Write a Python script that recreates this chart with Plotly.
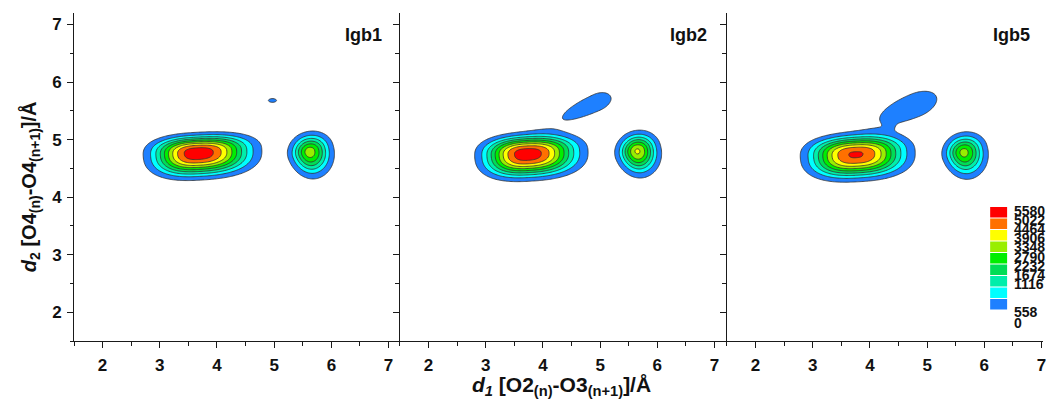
import numpy as np
import plotly.graph_objects as go

# ---- data -----------------------------------------------------------------
panel_names = ["Igb1", "Igb2", "Igb5"]
panel_label_x = [6.92, 6.90, 6.84]
contour_levels = [0, 558, 1116, 1674, 2232, 2790, 3348, 3906, 4464, 5022, 5580]
band_colors = ["#ffffff", "#1e80ff", "#00ffff", "#00eeaa", "#00dd55",
               "#00ee00", "#99ee00", "#ffff00", "#ff7000", "#ff0000"]
axis_ticks = [2, 3, 4, 5, 6, 7]

# density peaks of the (d1, d2) maps, one entry per peak
peak_panel = [0, 0, 0, 1, 1, 1, 2, 2, 2, 2]
peak_x = [3.66, 5.62, 4.97, 3.72, 5.65, 4.95, 3.75, 5.64, 4.80, 4.36]
peak_y = [4.77, 4.79, 5.68, 4.75, 4.80, 5.64, 4.74, 4.78, 5.60, 5.23]
peak_height = [5370, 3650, 610, 5330, 4000, 850, 5070, 3550, 1000, 150]
sig_left = [0.52, 0.20, 0.17, 0.50, 0.20, 0.72, 0.535, 0.20, 0.62, 0.07]
sig_right = [0.615, 0.22, 0.17, 0.585, 0.21, 0.28, 0.575, 0.22, 0.36, 0.07]
sig_down = [0.26, 0.25, 0.08, 0.26, 0.24, 0.15, 0.262, 0.25, 0.19, 0.07]
sig_up = [0.195, 0.18, 0.08, 0.207, 0.18, 0.17, 0.213, 0.18, 0.19, 0.07]
peak_tilt = [3, 20, 0, 3, 20, 24, 3, 20, 22, 0]
peak_power = [2.5, 2.0, 2.0, 2.5, 2.0, 2.0, 2.5, 2.0, 2.0, 2.0]

# ---- density grids ------------------------------------------------------------
grid = np.arange(1.5, 7.2001, 0.02)
GX, GY = np.meshgrid(grid, grid)


def density(panel):
    z = np.zeros_like(GX)
    for i, p in enumerate(peak_panel):
        if p != panel:
            continue
        t = np.radians(peak_tilt[i])
        dx, dy = GX - peak_x[i], GY - peak_y[i]
        u = dx * np.cos(t) + dy * np.sin(t)
        v = -dx * np.sin(t) + dy * np.cos(t)
        su = np.where(u < 0, sig_left[i], sig_right[i])
        sv = np.where(v < 0, sig_down[i], sig_up[i])
        k = peak_power[i]
        q = np.abs(u / su) ** k + np.abs(v / sv) ** k
        z += peak_height[i] * np.exp(-0.5 * q)
    return z


# ---- layout geometry ---------------------------------------------------------
W, H = 1046, 403
ML, MR, MT, MB = 74, 0, 13, 62
plot_w = W - ML - MR
plot_h = H - MT - MB
px_per_unit = 327 / 5.7
panel_px = [(74, 401), (401, 729), (729, 1046)]
domains = [[(a - ML) / plot_w, (b - ML) / plot_w] for a, b in panel_px]
x_ranges = [[1.5, 1.5 + (b - a) / px_per_unit] for a, b in panel_px]

n_fill = len(band_colors)
colorscale = [[k / (n_fill - 1), c] for k, c in enumerate(band_colors)]
step = contour_levels[1] - contour_levels[0]

font_family = "Liberation Sans, Arial, sans-serif"
axis_color = "#1a1a1a"
tick_font = dict(family=font_family, size=17, color="#111", weight="bold")

fig = go.Figure()
for k in range(3):
    sfx = "" if k == 0 else str(k + 1)
    fig.add_trace(go.Contour(
        x=grid, y=grid, z=density(k),
        xaxis="x" + sfx, yaxis="y" + sfx,
        autocontour=False,
        contours=dict(start=contour_levels[1], end=contour_levels[-2],
                      size=step, coloring="fill"),
        colorscale=colorscale,
        line=dict(color="#303030", width=0.8, smoothing=1),
        showscale=False, hoverinfo="skip",
    ))

    xa = dict(domain=domains[k], range=x_ranges[k], anchor="y" + sfx,
              showline=True, linecolor=axis_color, linewidth=1,
              ticks="outside", ticklen=6, tickwidth=1, tickcolor=axis_color,
              tickvals=axis_ticks, ticklabelstandoff=3, ticklabeloverflow="allow",
              tickfont=tick_font,
              minor=dict(dtick=0.5, tick0=1.5, ticks="outside", ticklen=3.5,
                         tickwidth=1, tickcolor=axis_color),
              showgrid=False, zeroline=False, fixedrange=True)
    ya = dict(domain=[0, 1], range=[1.5, 7.2], anchor="x" + sfx,
              showline=True, linecolor=axis_color, linewidth=1,
              mirror=(k < 2),
              ticks="outside", ticklen=6, tickwidth=1, tickcolor=axis_color,
              tickvals=axis_ticks, showticklabels=(k == 0), ticklabelstandoff=2,
              tickfont=tick_font,
              minor=dict(dtick=0.5, tick0=1.5, ticks="outside", ticklen=3.5,
                         tickwidth=1, tickcolor=axis_color),
              showgrid=False, zeroline=False, fixedrange=True)
    fig.layout["xaxis" + sfx] = xa
    fig.layout["yaxis" + sfx] = ya

    fig.add_annotation(x=panel_label_x[k], y=6.82, xref="x" + sfx, yref="y" + sfx,
                       text="<b>%s</b>" % panel_names[k], showarrow=False,
                       xanchor="right", yanchor="middle",
                       font=dict(family=font_family, size=18, color="#111"))

# axis titles
fig.add_annotation(
    x=(563 - ML) / plot_w, y=(MT + plot_h - 386) / plot_h, xref="paper", yref="paper",
    text="<b><i>d</i><sub><i>1</i></sub> [O2<sub>(n)</sub>-O3<sub>(n+1)</sub>]/Å</b>",
    showarrow=False, xanchor="center", yanchor="middle",
    font=dict(family=font_family, size=21, color="#111"))
fig.add_annotation(
    x=(30 - ML) / plot_w, y=(MT + plot_h - 187) / plot_h, xref="paper", yref="paper",
    text="<b><i>d</i><sub>2</sub> [O4<sub>(n)</sub>-O4<sub>(n+1)</sub>]/Å</b>",
    textangle=-90, showarrow=False, xanchor="center", yanchor="middle",
    font=dict(family=font_family, size=20, color="#111"))


# colour-scale key
def py_to_paper(py):
    return (MT + plot_h - py) / plot_h


key_x0, key_x1 = (993 - ML) / plot_w, (1010 - ML) / plot_w
key_top, band_h = 207, 11.5
for j in range(n_fill - 1):
    color = band_colors[n_fill - 1 - j]
    top = key_top + j * band_h
    fig.add_shape(type="rect", xref="paper", yref="paper",
                  x0=key_x0, x1=key_x1,
                  y0=py_to_paper(top + band_h - 1), y1=py_to_paper(top),
                  fillcolor=color, line=dict(width=0), layer="above")

label_pos = [211 + 9.1 * j for j in range(9)] + [312, 323]
for j, lev in enumerate(reversed(contour_levels)):
    fig.add_annotation(x=(1015 - ML) / plot_w, y=py_to_paper(label_pos[j]),
                       xref="paper", yref="paper", text="<b>%d</b>" % lev,
                       showarrow=False, xanchor="left", yanchor="middle",
                       font=dict(family=font_family, size=14, color="#111"))

fig.update_layout(width=W, height=H, margin=dict(l=ML, r=MR, t=MT, b=MB),
                  paper_bgcolor="white", plot_bgcolor="white", showlegend=False)

fig.write_html("out.html")
